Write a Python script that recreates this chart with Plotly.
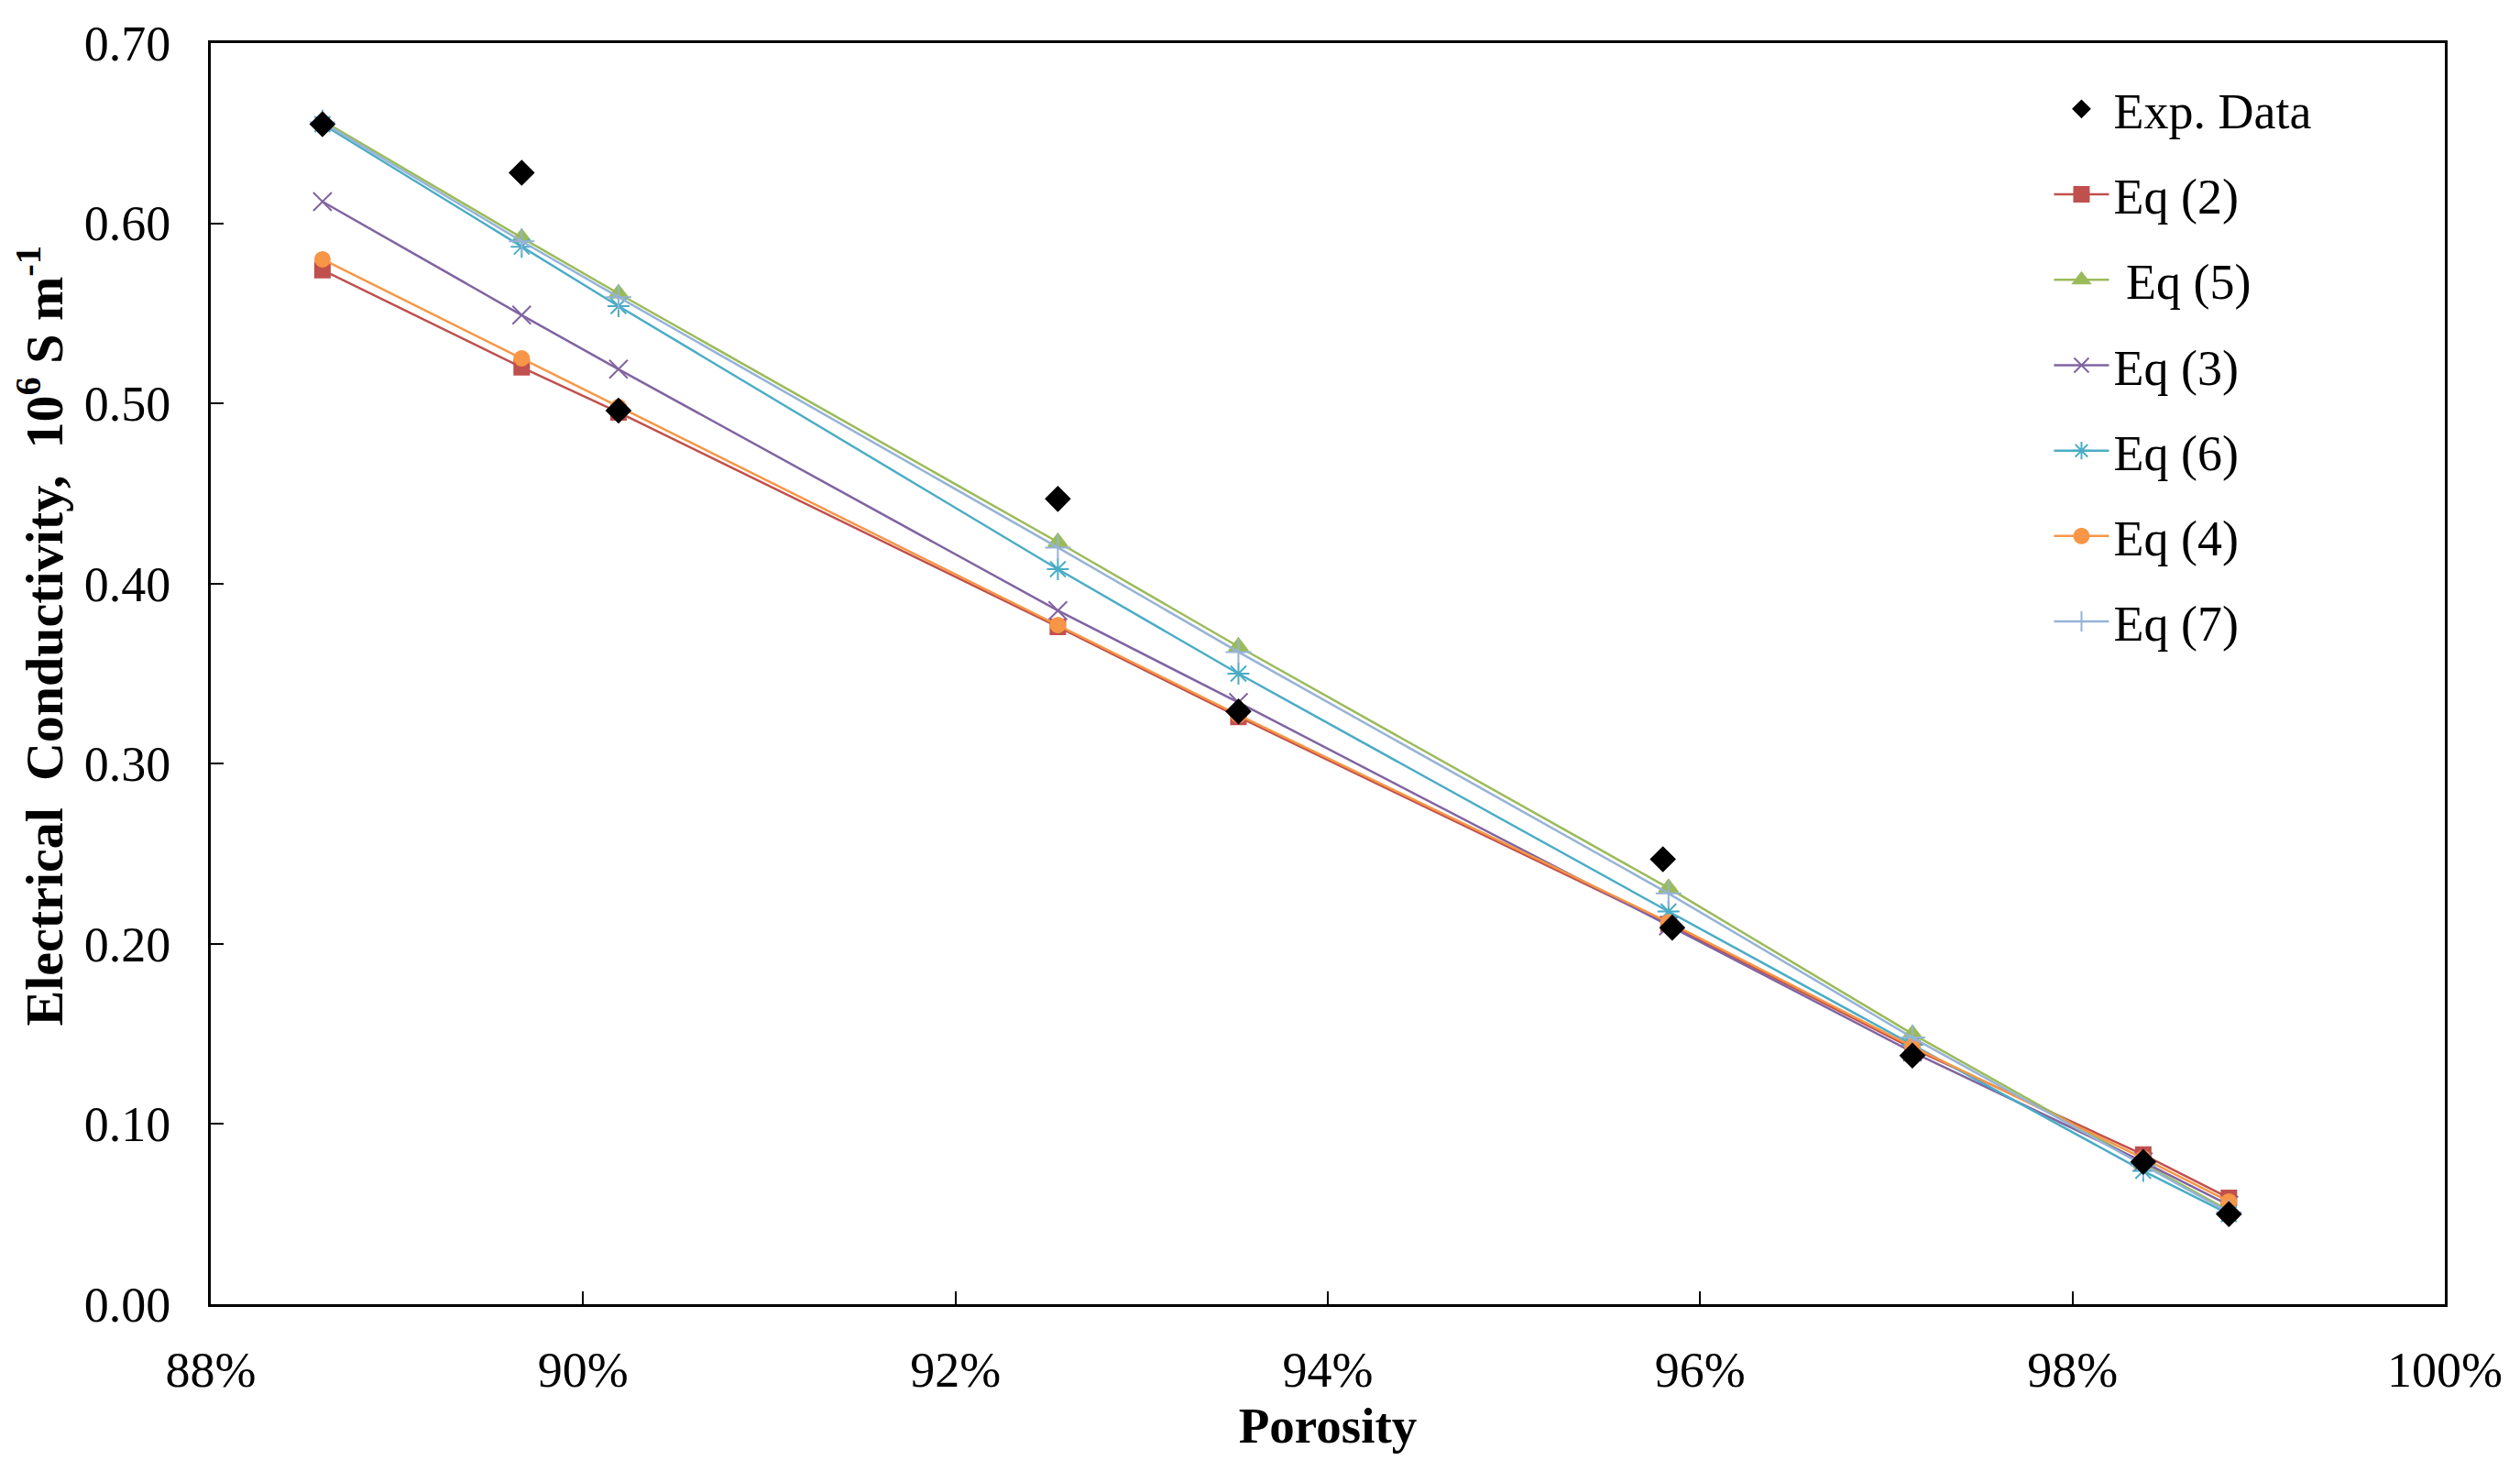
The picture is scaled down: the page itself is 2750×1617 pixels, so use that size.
import plotly.graph_objects as go

# Porosity (fraction) for the model curves
porosity_eq = [0.8860, 0.8967, 0.9019, 0.9255, 0.9352, 0.9583, 0.9714, 0.9838, 0.9884]
# Experimental porosity and conductivity (10^6 S/m)
porosity_exp = [0.8860, 0.8967, 0.9019, 0.9255, 0.9352, 0.9580, 0.9585, 0.9714, 0.9838, 0.9884]
exp_data = [0.655, 0.628, 0.496, 0.447, 0.329, 0.247, 0.209, 0.138, 0.079, 0.050]

eq2 = [0.574, 0.520, 0.495, 0.376, 0.326, 0.211, 0.142, 0.083, 0.059]
eq5 = [0.657, 0.592, 0.561, 0.423, 0.365, 0.231, 0.150, 0.078, 0.052]
eq3 = [0.612, 0.549, 0.519, 0.385, 0.334, 0.210, 0.140, 0.079, 0.055]
eq6 = [0.655, 0.587, 0.554, 0.408, 0.350, 0.218, 0.144, 0.074, 0.050]
eq4 = [0.580, 0.525, 0.498, 0.377, 0.327, 0.212, 0.143, 0.081, 0.057]
eq7 = [0.656, 0.590, 0.559, 0.420, 0.362, 0.228, 0.148, 0.077, 0.051]

x_ticks = [0.88, 0.90, 0.92, 0.94, 0.96, 0.98, 1.00]
y_ticks = [0.0, 0.1, 0.2, 0.3, 0.4, 0.5, 0.6, 0.7]

FONT = "Liberation Serif, Times New Roman, serif"

series = [
    ("Eq (2)", eq2, "#C0504D", "square", 16, 2),
    (" Eq (5)", eq5, "#9BBB59", "triangle-up", 18, 3),
    ("Eq (3)", eq3, "#8064A2", "x-thin-open", 20, 4),
    ("Eq (6)", eq6, "#4BACC6", "asterisk-open", 20, 5),
    ("Eq (4)", eq4, "#F79646", "circle", 16, 6),
    ("Eq (7)", eq7, "#95B3D7", "cross-thin-open", 20, 7),
]

fig = go.Figure()
for name, vals, color, sym, size, rank in series:
    fig.add_trace(go.Scatter(
        x=porosity_eq, y=vals, name=name, mode="lines+markers",
        line=dict(color=color, width=2.5),
        marker=dict(symbol=sym, size=size, color=color,
                    line=dict(color=color, width=2)),
        legendgroup=name, legendrank=rank,
    ))

fig.add_trace(go.Scatter(
    x=porosity_exp, y=exp_data, name="Exp. Data", mode="markers",
    marker=dict(symbol="diamond", size=22, color="black"),
    legendgroup="exp", legendrank=1,
))

fig.update_layout(
    width=2750, height=1617,
    paper_bgcolor="white", plot_bgcolor="white",
    margin=dict(l=222, r=90, t=39, b=202),
    font=dict(family=FONT, size=54, color="black"),
    legend=dict(
        x=0.823, y=0.978, xanchor="left", yanchor="top",
        bgcolor="rgba(0,0,0,0)", borderwidth=0,
        font=dict(family=FONT, size=54, color="black"),
        tracegroupgap=20, itemwidth=60,
    ),
    showlegend=True,
    annotations=[dict(
        text="<b>Electrical  Conductivity,  10<sup>6</sup> S m<sup>-1</sup></b>",
        xref="paper", yref="paper", x=-0.076, y=0.53,
        xanchor="center", yanchor="middle", textangle=-90, showarrow=False,
        font=dict(family=FONT, size=58, color="black"),
    )],
)

fig.update_xaxes(
    range=[0.88, 1.00], tickvals=x_ticks, tickformat=".0%",
    ticks="inside", ticklen=14, tickwidth=2, tickcolor="black",
    showline=True, linecolor="black", linewidth=3, mirror=True,
    showgrid=False, zeroline=False, automargin=False,
    ticklabeloverflow="allow",
    tickfont=dict(family=FONT, size=54),
    ticklabelstandoff=22,
    title=dict(text="<b>Porosity</b>", font=dict(family=FONT, size=55), standoff=12),
)
fig.update_yaxes(
    range=[0.0, 0.70], tickvals=y_ticks, tickformat=".2f",
    ticks="inside", ticklen=14, tickwidth=2, tickcolor="black",
    showline=True, linecolor="black", linewidth=3, mirror=True,
    showgrid=False, zeroline=False, automargin=False,
    ticklabeloverflow="allow",
    tickfont=dict(family=FONT, size=54),
    ticklabelstandoff=30,
)

fig.write_html("out.html")
